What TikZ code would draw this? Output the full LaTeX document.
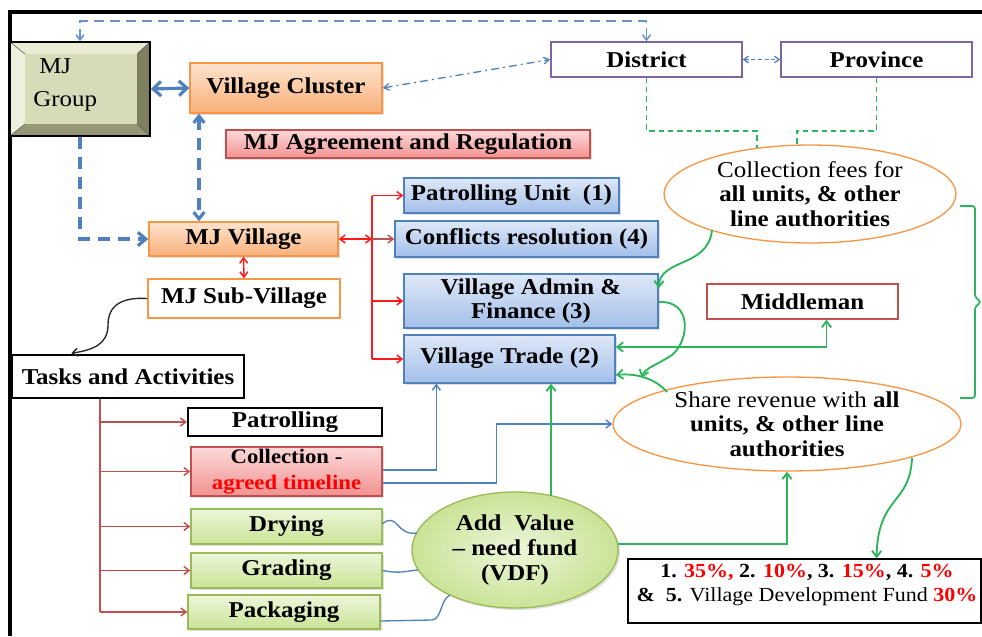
\documentclass[tikz,border=0pt]{standalone}
\usepackage{fontspec}
\setmainfont{Liberation Serif}[FakeStretch=1.1]
\usetikzlibrary{arrows.meta,shapes.geometric,calc,shadows}
\definecolor{bbord}{HTML}{4F81BD}
\definecolor{btop}{HTML}{DEE8F7}
\definecolor{bbot}{HTML}{A3BFEA}
\definecolor{obord}{HTML}{F79646}
\definecolor{otop}{HTML}{FDE3CE}
\definecolor{obot}{HTML}{F9B07A}
\definecolor{rbord}{HTML}{C0504D}
\definecolor{rtop}{HTML}{FCD9D9}
\definecolor{rbot}{HTML}{F29191}
\definecolor{gbord}{HTML}{9BBB59}
\definecolor{gtop}{HTML}{EDF6DA}
\definecolor{gbot}{HTML}{C9E396}
\definecolor{pbord}{HTML}{8064A2}
\definecolor{garr}{HTML}{2EB45A}
\definecolor{rarr}{HTML}{FF1A1A}
\definecolor{tred}{HTML}{C0504D}
\definecolor{txtred}{HTML}{FF0000}
\newcommand\mkbox[7]{\node[#6,minimum width={(#4-#2)*0.75pt},minimum height={(#5-#3)*0.75pt}] (#1) at ({(#2+#4)/2},{(#3+#5)/2}) {#7};}
\tikzset{
  base/.style={rectangle, inner sep=0pt, align=center, font=\fontsize{17}{18.5}\selectfont\bfseries},
  shad/.style={drop shadow={opacity=0.25, shadow xshift=1.5pt, shadow yshift=-1.5pt}},
  bluebox/.style={base, shad, draw=bbord, line width=1pt, top color=btop, bottom color=bbot},
  orbox/.style={base, shad, draw=obord, line width=1pt, top color=otop, bottom color=obot},
  redbox/.style={base, shad, draw=rbord, line width=1pt, top color=rtop, bottom color=rbot},
  grbox/.style={base, shad, draw=gbord, line width=1pt, top color=gtop, bottom color=gbot},
  plainbox/.style={base, draw=#1, line width=1.1pt, fill=white},
  ell/.style={ellipse, inner sep=0pt, align=center, font=\fontsize{17}{18.5}\selectfont},
  bthin/.style={draw=bbord, line width=1.1pt, arrows={-Straight Barb[length=4pt,width=6pt]}},
  bthick/.style={draw=bbord, line width=2.4pt, dash pattern=on 9pt off 6pt},
  gline/.style={draw=garr, line width=1.4pt},
  garw/.style={draw=garr, line width=1.4pt, arrows={-Straight Barb[length=4.5pt,width=7pt]}},
  rline/.style={draw=rarr, line width=1.1pt},
  tline/.style={draw=tred, line width=1.1pt},
}
\begin{document}
\begin{tikzpicture}[x=0.75pt,y=-0.75pt]
\useasboundingbox (0,0) rectangle (982,636);
% frame
\draw[line width=2.4pt] (982,12) -- (10,12) -- (10,636);

% MJ Group bevel
\fill[fill={rgb,255:red,233;green,235;blue,210}] (10,42) -- (150,42) -- (137,54) -- (25,54) -- cycle;
\fill[fill={rgb,255:red,238;green,240;blue,220}] (10,42) -- (25,54) -- (25,124) -- (10,136) -- cycle;
\fill[fill={rgb,255:red,126;green,127;blue,95}] (150,42) -- (150,136) -- (137,124) -- (137,54) -- cycle;
\fill[fill={rgb,255:red,150;green,151;blue,118}] (10,136) -- (150,136) -- (137,124) -- (25,124) -- cycle;
\fill[fill={rgb,255:red,216;green,219;blue,183}] (25,54) rectangle (137,124);
\draw[line width=0.5pt, black!60] (10,42) -- (25,54) (150,42) -- (137,54) (10,136) -- (25,124) (150,136) -- (137,124);
\mkbox{grp}{10}{42}{150}{136}{rectangle, inner sep=0pt, draw=black, line width=1.1pt}{}
\node[anchor=west, align=left, inner sep=0pt, font=\fontsize{17}{25}\selectfont] (grptxt) at (33,85) {\hspace*{4.5pt}MJ\\Group};

% boxes
\mkbox{cl}{190}{63}{382}{113}{orbox}{Village Cluster}
\mkbox{agr}{226}{130}{590}{158}{redbox}{MJ Agreement and Regulation}
\mkbox{dist}{551}{42}{742}{77}{plainbox=pbord}{District}
\mkbox{prov}{781}{42}{972}{77}{plainbox=pbord}{Province}
\mkbox{vil}{149}{222}{338}{256}{orbox}{MJ Village}
\mkbox{sub}{148}{279}{340}{318}{plainbox=obord}{MJ Sub-Village}
\mkbox{tasks}{12}{355}{244}{398}{plainbox=black}{Tasks and Activities}
\mkbox{pu}{404}{178}{619}{213}{bluebox}{Patrolling Unit\ \ (1)}
\mkbox{cr}{395}{221}{658}{257}{bluebox}{Conflicts resolution (4)}
\mkbox{adm}{404}{274}{658}{328}{bluebox}{Village Admin \&\\Finance (3)}
\mkbox{vtr}{404}{335}{615}{383}{bluebox}{\raisebox{5pt}{Village Trade (2)}}
\mkbox{mid}{707}{284}{898}{319}{plainbox=rbord}{Middleman}
\mkbox{pat}{188}{408}{382}{436}{base, draw=black, line width=1.6pt, fill=white}{Patrolling}
\mkbox{col}{191}{447}{382}{496}{redbox, font=\fontsize{15.5}{19}\selectfont\bfseries}{Collection -\\\textcolor{txtred}{agreed timeline}}
\mkbox{dry}{191}{509}{382}{544}{grbox}{Drying}
\mkbox{gra}{191}{553}{382}{588}{grbox}{Grading}
\mkbox{pack}{188}{595}{380}{629}{grbox}{Packaging}
\mkbox{pct}{628}{559}{981}{623}{plainbox=black}{}
\node[align=center, inner sep=0pt, font=\fontsize{15}{17.5}\selectfont] (pcttxt) at (807,585) {%
\textbf{1.} \textcolor{txtred}{\textbf{35\%,}} \textbf{2.} \textcolor{txtred}{\textbf{10\%}}\textbf{, 3.} \textcolor{txtred}{\textbf{15\%}}\textbf{, 4.} \textcolor{txtred}{\textbf{5\%}}\\
\textbf{\&\ \ 5.} Village Development Fund \textcolor{txtred}{\textbf{30\%}}};

% ellipses
\node[ell, draw=obord, line width=1pt, fill=white, minimum width=219pt, minimum height=73.5pt] (fees) at (810,194) {Collection fees for\\\textbf{all units, \& other}\\\textbf{line authorities}};
\node[ell, draw=obord, line width=1pt, fill=white, minimum width=261pt, minimum height=70.5pt] (share) at (787,424) {Share revenue with \textbf{all}\\\textbf{units, \& other line}\\\textbf{authorities}};
\node[ell, draw=gbord, line width=1pt, inner color=gtop, outer color=gbot, shad, minimum width=154.5pt, minimum height=87pt, font=\fontsize{17}{18.5}\selectfont\bfseries] (add) at (515,550) {Add\ \ Value\\-- need fund\\(VDF)};

% coordinates
\coordinate (ttop) at (0,21);
\coordinate (c199) at (199,0);
\coordinate (gy) at (0,131);
\coordinate (fe1) at (757,148);
\coordinate (fe2) at (797,145);
\coordinate (rt) at (372,0);
\coordinate (tk) at (100,0);
\coordinate (d1) at (417,533);
\coordinate (g1) at (418,570);
\coordinate (p1) at (450,595);
\coordinate (ga) at (551,496);
\coordinate (ae) at (618,544);
\coordinate (sb) at (912,458);
\coordinate (fb) at (712,230);
\coordinate (st) at (667,392);

% blue connectors
\draw[draw=bbord!85, line width=1.1pt, dash pattern=on 8pt off 4pt, arrows={Straight Barb[length=4pt,width=6pt]-Straight Barb[length=4pt,width=6pt]}] (grp.north) -- (grp.north |- ttop) -| (dist.north);
\draw[draw=bbord, line width=2.4pt, arrows={Straight Barb[length=6pt,width=11pt]-Straight Barb[length=6pt,width=11pt]}] (grp.east) -- (cl.west);
\draw[bthick, arrows={Straight Barb[length=5pt,width=8pt]-Straight Barb[length=5pt,width=8pt]}] (cl.south -| c199) -- (vil.north -| c199);
\draw[bthick, arrows={-Straight Barb[length=6pt,width=10pt]}] (grp.south) |- (vil.west);
\draw[draw=bbord, line width=1pt, dash pattern=on 6pt off 3pt on 1.5pt off 3pt, arrows={Straight Barb[length=4pt,width=5pt]-Straight Barb[length=4pt,width=5pt]}] (cl.east) -- (dist.west);
\draw[draw=bbord, line width=1pt, dash pattern=on 3pt off 2pt, arrows={Straight Barb[length=3.5pt,width=5pt]-Straight Barb[length=3.5pt,width=5pt]}] (dist.east) -- (prov.west);

% green dashed
\draw[gline, line width=1.2pt, dash pattern=on 4pt off 3pt] (dist.south) |- (gy -| fe1) -- (fe1);
\draw[gline, line width=1.2pt, dash pattern=on 4pt off 3pt] (prov.south) |- (gy -| fe2) -- (fe2);

% red connectors
\draw[rline, arrows={Straight Barb[length=4pt,width=6pt]-Straight Barb[length=4pt,width=6pt]}] (vil.east) -- (vil.east -| rt);
\draw[rline] (rt |- pu.west) -- (rt |- vtr.west);
\draw[rline, arrows={-Straight Barb[length=4pt,width=6pt]}] (rt |- pu.west) -- (pu.west);
\draw[tline, arrows={-Straight Barb[length=4pt,width=6pt]}] (vil.east -| rt) -- (cr.west);
\draw[rline, arrows={-Straight Barb[length=4pt,width=6pt]}] (rt |- adm.west) -- (adm.west);
\draw[rline, arrows={-Straight Barb[length=4pt,width=6pt]}] (rt |- vtr.west) -- (vtr.west);
\draw[rline, arrows={Straight Barb[length=4pt,width=6pt]-Straight Barb[length=4pt,width=6pt]}] (vil.south) -- (sub.north);

% sub-village to tasks
\draw[black!85, line width=1pt, arrows={-Straight Barb[length=4pt,width=6pt]}] (sub.west) .. controls (122,297) and (108,305) .. (108,325) .. controls (108,345) and (92,350) .. ($(tasks.north west)+(60,-1)$);

% tasks branches
\draw[tline, line width=1.8pt] (tasks.south -| tk) -- (tk |- pack.west);
\foreach \n in {pat,col,dry,gra,pack} \draw[tline, arrows={-Straight Barb[length=4pt,width=6pt]}] (tk |- \n.west) -- (\n.west);

% blue thin from collection and value chain
\draw[bthin] ($(col.east)+(0,-1.5)$) -| ($(vtr.south west)+(33,0)$);
\draw[bthin] ($(col.east)+(0,11.5)$) -| ($(share.west)+(-116,0)$) -- (share.west);
\draw[draw=bbord, line width=1pt] ($(dry.east)+(0,-3)$) .. controls (398,512) and (396,536) .. (d1);
\draw[draw=bbord, line width=1pt] (gra.east) .. controls (400,574) and (405,571) .. (g1);
\draw[draw=bbord, line width=1pt] ($(pack.east)+(0,9)$) -- (432,620) .. controls (442,619) and (440,600) .. (p1);

% green connectors
\draw[garw] (ga) -- (ga |- vtr.south);
\draw[garw] (ae) -| (share.south);
\draw[garw] (sb) .. controls (910,505) and (878,495) .. ($(pct.north)+(72,0)$);
\draw[garw] (fb) .. controls (708,268) and (660,258) .. ($(adm.north east)+(0,15)$);
\draw[garw] ($(adm.east)+(0,1)$) .. controls (692,300) and (690,340) .. (672,355) .. controls (655,366) and (645,368) .. ($(vtr.south east)+(26,-6)$);
\draw[gline, arrows={Straight Barb[length=4.5pt,width=7pt]-Straight Barb[length=4.5pt,width=7pt]}] ($(vtr.east)+(0,-12)$) -| ($(mid.south)+(24,0)$);
\draw[garw] (st) .. controls (655,378) and (635,373) .. ($(vtr.east)+(0,16)$);

% brace
\draw[gline, line width=1.3pt, rounded corners=2pt] (960,206) -- (975,206) -- (975,297) -- (981,302) -- (975,307) -- (975,398) -- (960,398);
\end{tikzpicture}
\end{document}
